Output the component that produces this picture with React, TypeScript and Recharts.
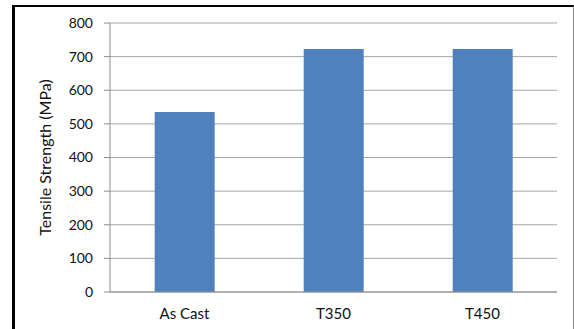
import React from 'react';
import { BarChart, Bar, XAxis, YAxis, CartesianGrid } from 'recharts';

const categories = ['As Cast', 'T350', 'T450'];
const strength = [535, 723, 723];
const yTicks = [0, 100, 200, 300, 400, 500, 600, 700, 800];
const boundaryTicks = [0, 1, 2, 3];

const data = categories.map((name, i) => ({ name, value: strength[i] }));

const font = 'Lato, "Open Sans", sans-serif';

const App: React.FC = () => {
  return (
    <div style={{ position: 'fixed', left: 0, top: 0, width: 574, height: 329, background: '#fff', overflow: 'hidden' }}>
      {/* frame around the chart */}
      <div
        style={{
          position: 'absolute',
          left: 12,
          top: 5,
          width: 558,
          height: 340,
          borderLeft: '3px solid #000',
          borderTop: '2px solid #000',
          borderRight: '1px solid #8c8c8c',
        }}
      />
      <div style={{ position: 'absolute', left: 0, top: 0 }}>
        <BarChart
          width={574}
          height={329}
          data={data}
          margin={{ top: 23, right: 17, bottom: 7, left: 0 }}
          barCategoryGap="30%"
        >
          <CartesianGrid vertical={false} stroke="#a6a6a6" strokeWidth={1} xAxisId="cat" />
          {/* tick marks between categories, sitting on the baseline */}
          <XAxis
            xAxisId="edges"
            type="number"
            domain={[0, 3]}
            ticks={boundaryTicks}
            height={0}
            axisLine={false}
            tick={false}
            tickSize={5}
            tickLine={{ stroke: '#8c8c8c' }}
          />
          <XAxis
            dataKey="name"
            xAxisId="cat"
            height={30}
            axisLine={{ stroke: '#8c8c8c' }}
            tickLine={false}
            tickSize={0}
            tickMargin={16}
            tick={{ fill: '#111', fontSize: 15, fontFamily: font }}
          />
          <YAxis
            width={110}
            domain={[0, 800]}
            ticks={yTicks}
            interval={0}
            axisLine={{ stroke: '#8c8c8c' }}
            tickLine={{ stroke: '#8c8c8c' }}
            tickSize={6}
            tickMargin={11}
            tick={{ fill: '#111', fontSize: 14, fontFamily: font }}
            label={{
              value: 'Tensile Strength (MPa)',
              angle: -90,
              position: 'center',
              dx: -10,
              style: { fill: '#111', fontSize: 16, fontFamily: font, textAnchor: 'middle' },
            }}
          />
          <Bar dataKey="value" xAxisId="cat" fill="#4f81bd" isAnimationActive={false} />
        </BarChart>
      </div>
    </div>
  );
};

export default App;
